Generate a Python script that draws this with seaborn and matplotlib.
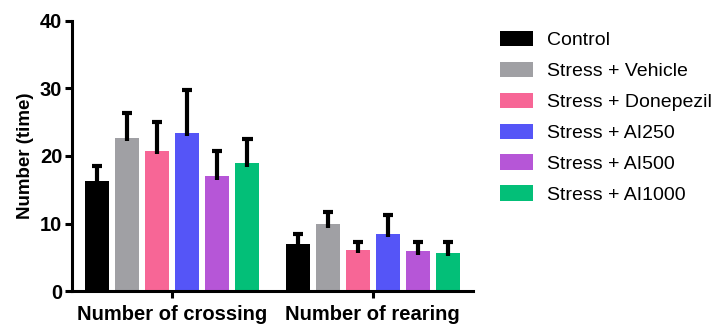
import numpy as np
import pandas as pd
import matplotlib
matplotlib.use("Agg")
import matplotlib.pyplot as plt
import seaborn as sns

categories = ["Number of crossing", "Number of rearing"]
groups = ["Control", "Stress + Vehicle", "Stress + Donepezil",
          "Stress + AI250", "Stress + AI500", "Stress + AI1000"]
crossing_mean = [16.3, 22.7, 20.8, 23.4, 17.0, 18.9]
crossing_err = [2.2, 3.6, 4.2, 6.4, 3.7, 3.6]
rearing_mean = [6.9, 9.9, 6.1, 8.5, 5.9, 5.7]
rearing_err = [1.5, 1.8, 1.2, 2.8, 1.4, 1.5]
colors = ["#000000", "#a0a0a4", "#f76696", "#5555f7", "#b656d7", "#03bf78"]
yticks = [0, 10, 20, 30, 40]

rows = []
for g, m, e in zip(groups, crossing_mean, crossing_err):
    rows.append(dict(cat=categories[0], group=g, mean=m, err=e))
for g, m, e in zip(groups, rearing_mean, rearing_err):
    rows.append(dict(cat=categories[1], group=g, mean=m, err=e))
df = pd.DataFrame(rows)

sns.set_style("ticks")
plt.rcParams['font.family'] = ['Liberation Sans', 'DejaVu Sans']
plt.rcParams.update({"text.color": "black", "axes.labelcolor": "black",
                     "xtick.color": "black", "ytick.color": "black",
                     "xtick.labelcolor": "black", "ytick.labelcolor": "black"})

fig = plt.figure(figsize=(7.18, 3.27), dpi=100)
ax = fig.add_axes([0.1003, 0.110, 0.5585, 0.826])

sns.barplot(data=df, x="cat", y="mean", hue="group", order=categories,
            hue_order=groups, palette=colors, width=0.9, gap=0.2,
            errorbar=None, linewidth=0, saturation=1, ax=ax, legend=True)

# error bars (upper only) from bar patches
for gi, g in enumerate(groups):
    cont = ax.containers[gi]
    for ci, rect in enumerate(cont):
        sub = df[(df.group == g) & (df.cat == categories[ci])].iloc[0]
        xc = rect.get_x() + rect.get_width() / 2
        hw = rect.get_width() * 0.21
        top = sub["mean"] + sub["err"]
        ax.vlines(xc, sub["mean"] - 0.5, top, colors="black", linewidth=3,
                  zorder=1)
        ax.hlines(top, xc - hw, xc + hw, colors="black", linewidth=3,
                  zorder=1)

ax.set_ylim(0, 40)
ax.set_xlim(-0.5, 1.5)
ax.set_yticks(yticks)
ax.set_yticklabels([str(t) for t in yticks], fontsize=14.5, fontweight="bold",
                   color="black")
ax.set_xticks([0, 1])
ax.set_xticklabels(categories, fontsize=14.5, fontweight="bold", color="black")
ax.set_xlabel("")
ax.set_ylabel("Number (time)", fontsize=13.5, fontweight="bold", labelpad=4,
              color="black")
for s in ["top", "right"]:
    ax.spines[s].set_visible(False)
for s in ["left", "bottom"]:
    ax.spines[s].set_linewidth(2.2)
    ax.spines[s].set_color("black")
ax.tick_params(axis="both", width=2.2, length=5, color="black", pad=2)
ax.tick_params(axis="x", pad=5)

handles, labels = ax.get_legend_handles_labels()
ax.legend_.remove()
leg = fig.legend(handles, labels, loc="upper left", bbox_to_anchor=(0.685, 0.93),
                 frameon=False, fontsize=14, handlelength=1.7, handleheight=0.82,
                 labelspacing=0.65, handletextpad=0.72, borderaxespad=0,
                 labelcolor="black")

fig.savefig("out.png", dpi=100)
